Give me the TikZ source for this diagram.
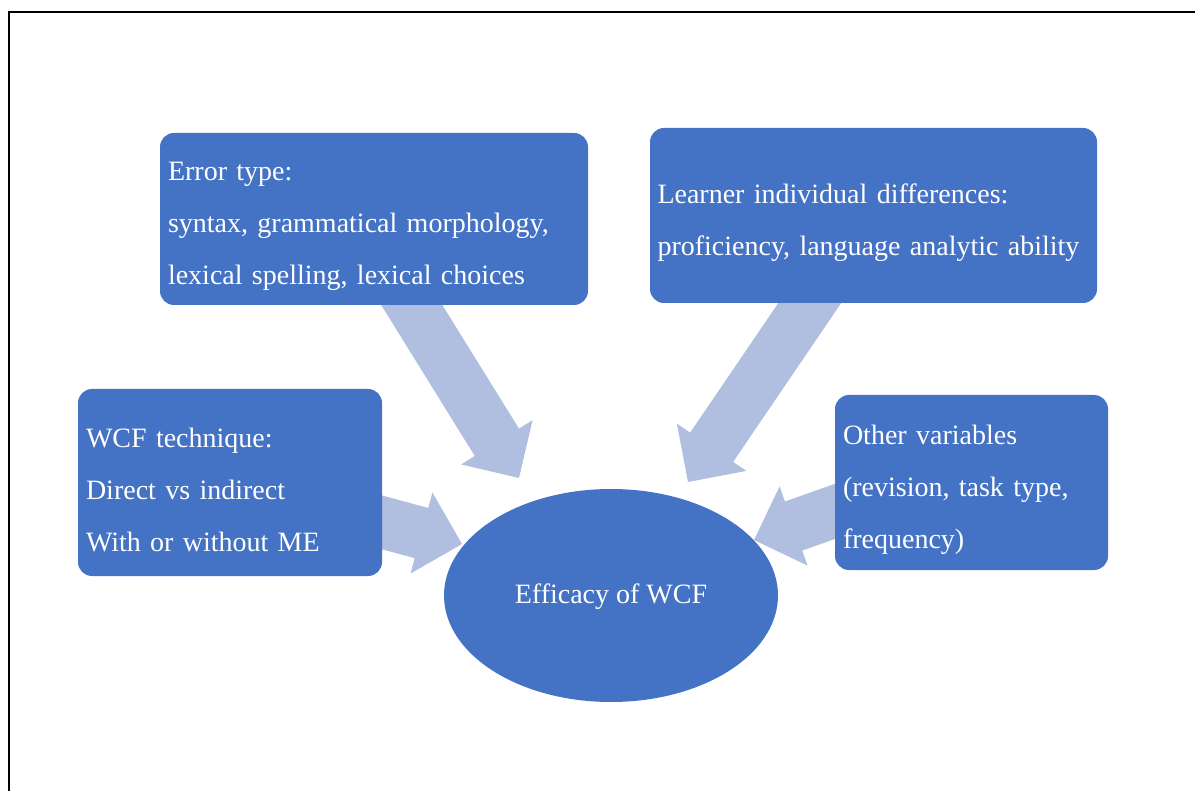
\documentclass[tikz,border=0pt]{standalone}
\usepackage{fontspec}
\setmainfont{Liberation Serif}
\usetikzlibrary{calc,shapes.geometric}
\pgfdeclarelayer{bg}
\pgfsetlayers{bg,main}
\definecolor{boxblue}{HTML}{4472C4}
\definecolor{arrowblue}{RGB}{176,190,224}
\newcommand{\topgap}{\rule{0pt}{17pt}}% pushes the text of a box a little down
% fat arrow from #1 to the tip #2
\newcommand{\fatarrow}[2]{%
	\coordinate (fa-s) at ($(#1)!-12pt!(#2)$);
	\coordinate (fa-m) at ($(#2)!21pt!(#1)$);
	\fill[arrowblue] ($(fa-s)!13pt!90:(#2)$) -- ($(fa-m)!13pt!90:(#2)$) -- ($(fa-m)!21pt!90:(#2)$) -- (#2)
		-- ($(fa-m)!21pt!-90:(#2)$) -- ($(fa-m)!13pt!-90:(#2)$) -- ($(fa-s)!13pt!-90:(#2)$) -- cycle;
}
\begin{document}
\begin{tikzpicture}[x=0.5pt,y=-0.5pt,
	box/.style={fill=boxblue,rounded corners=7pt,text=white,align=left,inner xsep=4pt,font={\fontsize{14}{26}\selectfont}},
	bigoval/.style={ellipse,fill=boxblue,text=white,inner sep=0pt,font={\fontsize{14}{26}\selectfont}}]
	\useasboundingbox (0,0) rectangle (1195,791);
	\draw[line width=1pt] (1195,12) -- (9,12) -- (9,791); % frame
	\node[box,minimum height=86pt,text width=206pt] (err) at (374,219) {\topgap Error type:\\syntax, grammatical morphology,\\lexical spelling, lexical choices};
	\node[box,minimum height=87.5pt,text width=216pt,inner xsep=3.75pt] (lrn) at (873.5,215.5) {\topgap Learner individual differences:\\proficiency, language analytic ability};
	\node[box,minimum height=93.5pt,text width=144pt] (wcf) at (230,482.5) {\topgap WCF technique:\\Direct vs indirect\\With or without ME};
	\node[box,minimum height=87.5pt,text width=128.5pt] (oth) at (971.5,482.5) {\topgap Other variables\\(revision, task type,\\frequency)};
	\node[bigoval,minimum width=167pt,minimum height=106.5pt] (eff) at (611,595.5) {\rule{0pt}{11pt}Efficacy of WCF};
	% start and tip of each arrow
	\coordinate (errout) at ($(err.south)+(38,0)$);
	\coordinate (lrnout) at ($(lrn.south)+(-64,0)$);
	\coordinate (wcfout) at ($(wcf.east)+(0,40)$);
	\coordinate (othout) at ($(oth.west)+(0,29)$);
	\coordinate (errtip) at ($(eff.center)+(-92,-117.5)$);
	\coordinate (lrntip) at ($(eff.center)+(77,-113.5)$);
	\coordinate (wcftip) at ($(eff.center)+(-149,-51.5)$);
	\coordinate (othtip) at ($(eff.center)+(143,-55.5)$);
	\begin{pgfonlayer}{bg}
		\fatarrow{errout}{errtip}
		\fatarrow{lrnout}{lrntip}
		\fatarrow{wcfout}{wcftip}
		\fatarrow{othout}{othtip}
	\end{pgfonlayer}
\end{tikzpicture}
\end{document}
